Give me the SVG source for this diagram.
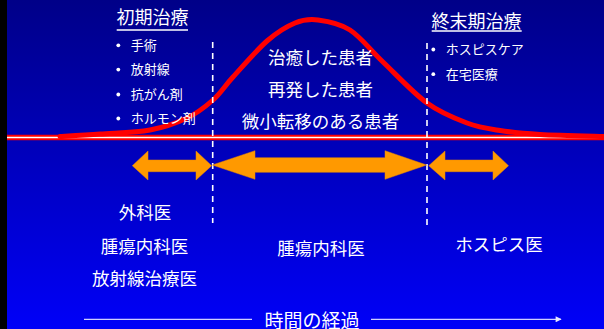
<svg xmlns="http://www.w3.org/2000/svg" width="604" height="329" viewBox="0 0 604 329">
  <defs>
    <linearGradient id="bg" x1="0" y1="0" x2="0" y2="1">
      <stop offset="0" stop-color="#000088"/>
      <stop offset="1" stop-color="#0000f8"/>
    </linearGradient>
    <marker id="tri" viewBox="0 0 10 10" refX="9" refY="5" markerWidth="8" markerHeight="6" markerUnits="userSpaceOnUse" orient="auto">
      <path d="M0,0 L10,5 L0,10 Z" fill="#e8e8ff"/>
    </marker>
    <style>
      text { font-family: "Noto Sans CJK JP", "Noto Sans", sans-serif; fill: #ffffff; }
      .title { font-size: 18px; }
      .item { font-size: 13px; }
      .big { font-size: 17.5px; text-anchor: middle; }
      .dash { stroke: #ffffff; stroke-width: 1.6; stroke-dasharray: 6 5; fill: none; }
      .ul { stroke: #ffffff; stroke-width: 1.3; }
      .dot { fill: #ffffff; }
      .arr { fill: #ff9900; stroke: #e88a00; stroke-width: 0.5; }
      .time { stroke: #d0d0ff; stroke-width: 1.2; fill: none; }
    </style>
  </defs>

  <rect x="0" y="0" width="604" height="329" fill="url(#bg)"/>
  <rect x="0" y="0" width="7" height="329" fill="#000000"/>

  <g id="baseline">
    <line x1="7" y1="137.5" x2="604" y2="137.5" stroke="#ff0000" stroke-width="5.5"/>
    <line x1="7" y1="137.5" x2="604" y2="137.5" stroke="#ffffff" stroke-width="1.5"/>
  </g>

  <g id="curve">
    <path d="M60,136.5 C66.7,136.1 85,135.1 100,134 C115,132.9 135.5,132.7 150,130 C164.5,127.3 176.5,123 187,118 C197.5,113 205.3,106.8 213,100 C220.7,93.2 224,86.8 233,77 C242,67.2 256.7,50 267,41 C277.3,32 286.5,26.5 295,23 C303.5,19.5 308.8,18.8 318,20 C327.2,21.2 339.2,23 350,30 C360.8,37 370.2,49.8 383,62 C395.8,74.2 413,92.8 427,103 C441,113.2 454.8,118.4 467,123 C479.2,127.6 487.8,128.6 500,130.5 C512.2,132.4 522.7,133.5 540,134.5 C557.3,135.5 593.3,136.2 604,136.5" fill="none" stroke="#ff0000" stroke-width="5" stroke-linecap="round"/>
  </g>

  <g id="connectors">
    <line class="dash" x1="212.7" y1="42" x2="212.7" y2="223"/>
    <line class="dash" x1="427" y1="43" x2="427" y2="226"/>
    <line class="time" x1="84" y1="319.3" x2="252" y2="319.3"/>
    <line class="time" x1="371" y1="319.3" x2="561" y2="319.3" marker-end="url(#tri)"/>
  </g>

  <g id="early-treatment">
    <text class="title" x="116.5" y="24">初期治療</text>
    <line class="ul" x1="116.7" y1="30" x2="188" y2="30"/>
    <circle class="dot" cx="118.3" cy="45.3" r="1.9"/>
    <text class="item" x="130.7" y="50">手術</text>
    <circle class="dot" cx="118.3" cy="69.6" r="1.9"/>
    <text class="item" x="130.7" y="74.2">放射線</text>
    <circle class="dot" cx="118.3" cy="94.5" r="1.9"/>
    <text class="item" x="130.7" y="99.2">抗がん剤</text>
    <circle class="dot" cx="118.3" cy="118.5" r="1.9"/>
    <text class="item" x="130.7" y="123.2">ホルモン剤</text>
  </g>

  <g id="patients">
    <text class="big" x="320.5" y="63.6">治癒した患者</text>
    <text class="big" x="320.5" y="95.6">再発した患者</text>
    <text class="big" x="320.5" y="128">微小転移のある患者</text>
  </g>

  <g id="terminal-treatment">
    <text class="title" x="431.5" y="27.6">終末期治療</text>
    <line class="ul" x1="431.7" y1="31" x2="521.7" y2="31"/>
    <circle class="dot" cx="433.3" cy="49.5" r="1.9"/>
    <text class="item" x="445.7" y="54.2">ホスピスケア</text>
    <circle class="dot" cx="433.3" cy="74.2" r="1.9"/>
    <text class="item" x="445.7" y="78.9">在宅医療</text>
  </g>

  <g id="arrow-early">
    <polygon class="arr" points="132.3,165.7 148,151 148,160 196,160 196,151 211.7,165.7 196,180 196,171.7 148,171.7 148,180"/>
  </g>
  <g id="arrow-middle">
    <polygon class="arr" points="212.3,165 255,150.7 255,157.7 385,157.7 385,150.7 426.7,165 385,179.3 385,172.3 255,172.3 255,179.3"/>
  </g>
  <g id="arrow-terminal">
    <polygon class="arr" points="428.7,165.7 445,151 445,160 493,160 493,151 508.5,165.7 493,180 493,171.7 445,171.7 445,180"/>
  </g>

  <g id="doctors-early">
    <text class="big" x="145" y="219.3">外科医</text>
    <text class="big" x="144.5" y="252.6">腫瘍内科医</text>
    <text class="big" x="144.5" y="284.6">放射線治療医</text>
  </g>
  <g id="doctors-middle">
    <text class="big" x="321" y="254.6">腫瘍内科医</text>
  </g>
  <g id="doctors-terminal">
    <text class="big" x="499" y="250.6">ホスピス医</text>
  </g>

  <g id="time-label">
    <text x="312" y="328" style="font-size:19px" text-anchor="middle">時間の経過</text>
  </g>
</svg>
